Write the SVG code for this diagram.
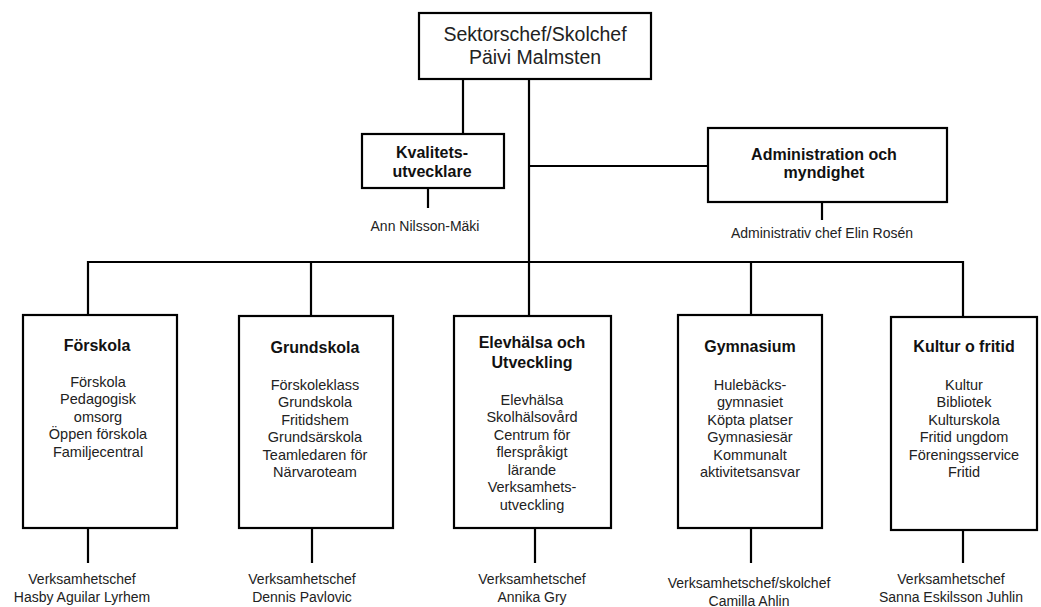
<svg xmlns="http://www.w3.org/2000/svg" width="1041" height="607" viewBox="0 0 1041 607">
<style>
.box{fill:#fff;stroke:#000;stroke-width:2.2}
.ln{stroke:#000;stroke-width:2.2;fill:none}
text{font-family:"Liberation Sans",Arial,sans-serif;text-anchor:middle;fill:#222}
.top{font-size:19.5px}
.t{font-size:16px;font-weight:bold;fill:#111}
.b{font-size:14.5px}
.n{font-size:14px}
</style>
<rect width="1041" height="607" fill="#fff"/>
<g id="connectors">
<path class="ln" d="M463 79V134"/>
<path class="ln" d="M529 79V316"/>
<path class="ln" d="M529 166H709"/>
<path class="ln" d="M428 188V208"/>
<path class="ln" d="M822 202V220"/>
<path class="ln" d="M88 315V262H963V317"/>
<path class="ln" d="M311 262V316"/>
<path class="ln" d="M751 262V315"/>
<path class="ln" d="M88 528V563"/>
<path class="ln" d="M312 528V563"/>
<path class="ln" d="M535 528V563"/>
<path class="ln" d="M751 528V563"/>
<path class="ln" d="M963 530V563"/>
</g>
<g id="sektorschef">
<rect class="box" x="419" y="13" width="232" height="66"/>
<text class="top" x="535" y="41">Sektorschef/Skolchef</text>
<text class="top" x="535" y="64">Päivi Malmsten</text>
</g>
<g id="kvalitet">
<rect class="box" x="362" y="134" width="142" height="54"/>
<text class="t" x="432" y="158">Kvalitets-</text>
<text class="t" x="432" y="177">utvecklare</text>
<text class="n" x="425" y="231">Ann Nilsson-Mäki</text>
</g>
<g id="administration">
<rect class="box" x="708" y="128" width="239" height="74"/>
<text class="t" x="824" y="160">Administration och</text>
<text class="t" x="824" y="178">myndighet</text>
<text class="n" x="822" y="238">Administrativ chef Elin Rosén</text>
</g>
<g id="forskola">
<rect class="box" x="23" y="315" width="154" height="213"/>
<text class="t" x="97" y="351">Förskola</text>
<text class="b" x="98" y="387">Förskola</text>
<text class="b" x="98" y="404">Pedagogisk</text>
<text class="b" x="98" y="422">omsorg</text>
<text class="b" x="98" y="439">Öppen förskola</text>
<text class="b" x="98" y="457">Familjecentral</text>
<text class="n" x="82" y="584">Verksamhetschef</text>
<text class="n" x="82" y="602">Hasby Aguilar Lyrhem</text>
</g>
<g id="grundskola">
<rect class="box" x="239" y="316" width="154" height="212"/>
<text class="t" x="315" y="353">Grundskola</text>
<text class="b" x="315" y="390">Förskoleklass</text>
<text class="b" x="315" y="407">Grundskola</text>
<text class="b" x="315" y="425">Fritidshem</text>
<text class="b" x="315" y="442">Grundsärskola</text>
<text class="b" x="315" y="460">Teamledaren för</text>
<text class="b" x="315" y="477">Närvaroteam</text>
<text class="n" x="302" y="584">Verksamhetschef</text>
<text class="n" x="302" y="602">Dennis Pavlovic</text>
</g>
<g id="elevhalsa">
<rect class="box" x="454" y="316" width="157" height="212"/>
<text class="t" x="532" y="348">Elevhälsa och</text>
<text class="t" x="532" y="368">Utveckling</text>
<text class="b" x="532" y="405">Elevhälsa</text>
<text class="b" x="532" y="422">Skolhälsovård</text>
<text class="b" x="532" y="440">Centrum för</text>
<text class="b" x="532" y="457">flerspråkigt</text>
<text class="b" x="532" y="475">lärande</text>
<text class="b" x="532" y="492">Verksamhets-</text>
<text class="b" x="532" y="510">utveckling</text>
<text class="n" x="532" y="584">Verksamhetschef</text>
<text class="n" x="532" y="602">Annika Gry</text>
</g>
<g id="gymnasium">
<rect class="box" x="678" y="315" width="144" height="213"/>
<text class="t" x="750" y="352">Gymnasium</text>
<text class="b" x="750" y="390">Hulebäcks-</text>
<text class="b" x="750" y="407">gymnasiet</text>
<text class="b" x="750" y="425">Köpta platser</text>
<text class="b" x="750" y="442">Gymnasiesär</text>
<text class="b" x="750" y="460">Kommunalt</text>
<text class="b" x="750" y="477">aktivitetsansvar</text>
<text class="n" x="749" y="588">Verksamhetschef/skolchef</text>
<text class="n" x="749" y="606">Camilla Ahlin</text>
</g>
<g id="kultur">
<rect class="box" x="891" y="317" width="146" height="213"/>
<text class="t" x="964" y="352">Kultur o fritid</text>
<text class="b" x="964" y="390">Kultur</text>
<text class="b" x="964" y="407">Bibliotek</text>
<text class="b" x="964" y="425">Kulturskola</text>
<text class="b" x="964" y="442">Fritid ungdom</text>
<text class="b" x="964" y="460">Föreningsservice</text>
<text class="b" x="964" y="477">Fritid</text>
<text class="n" x="951" y="584">Verksamhetschef</text>
<text class="n" x="951" y="602">Sanna Eskilsson Juhlin</text>
</g>
</svg>
